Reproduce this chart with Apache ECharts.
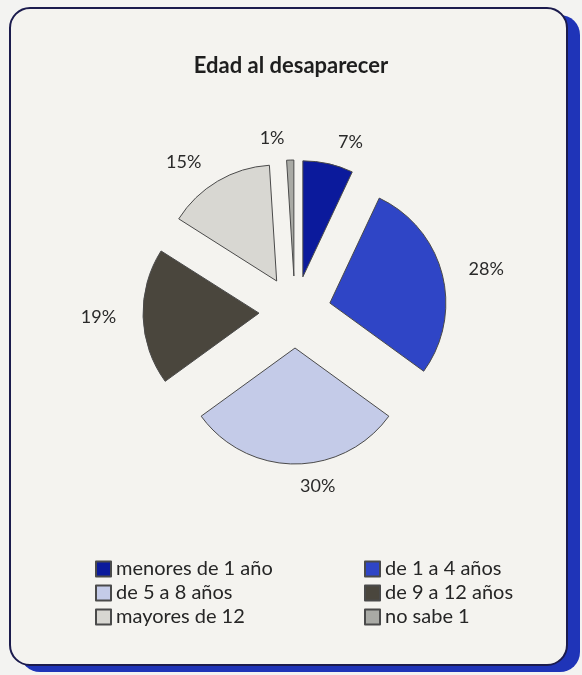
<!DOCTYPE html>
<html>
<head>
<meta charset="utf-8">
<script src="https://cdn.jsdelivr.net/npm/echarts@6/dist/echarts.min.js"></script>
<style>
  html, body { margin: 0; padding: 0; background: #f3f3f1; }
  #chart { width: 582px; height: 675px; }
</style>
</head>
<body>
<div id="chart"></div>
<script>
const categories = ['menores de 1 año', 'de 1 a 4 años', 'de 5 a 8 años', 'de 9 a 12 años', 'mayores de 12', 'no sabe 1']
const values = [7, 28, 30, 19, 15, 1]
const colors = ['#0b1a9c', '#2f45c6', '#c4cbe8', '#4a463d', '#d8d7d2', '#a9aaa5']
const leftLegend = ['menores de 1 año', 'de 5 a 8 años', 'mayores de 12']
const rightLegend = ['de 1 a 4 años', 'de 9 a 12 años', 'no sabe 1']

const myChart = echarts.init(document.getElementById('chart'))

const legendBase = {
  orient: 'vertical',
  top: 554,
  itemWidth: 15,
  itemHeight: 15,
  itemGap: 4,
  icon: 'rect',
  selectedMode: false,
  textStyle: {
    color: '#262626',
    fontSize: 20,
    fontFamily: 'Lato'
  }
}

const option = {
  backgroundColor: '#f3f3f1',
  color: colors,
  title: {
    text: 'Edad al desaparecer',
    left: 'center',
    top: 50,
    textStyle: {
      fontFamily: 'Lato',
      fontWeight: 'bold',
      fontSize: 22,
      color: '#1e1e1e'
    }
  },
  graphic: [
    { // sombra azul del marco
      type: 'rect',
      z: -10,
      shape: { x: 20, y: 15, width: 560, height: 657, r: 20 },
      style: { fill: '#1f34b8' }
    },
    { // marco
      type: 'rect',
      z: -9,
      shape: { x: 10, y: 8, width: 557, height: 657, r: 20 },
      style: { fill: '#f4f3ef', stroke: '#1b1b4d', lineWidth: 2 }
    }
  ],
  legend: [
    Object.assign({}, legendBase, { left: 90, data: leftLegend }),
    Object.assign({}, legendBase, { left: 359, data: rightLegend })
  ],
  series: [{
    type: 'pie',
    center: [295, 312],
    radius: 116,
    startAngle: 90,
    selectedMode: 'multiple',
    selectedOffset: 36,
    avoidLabelOverlap: false,
    silent: true,
    itemStyle: {
      borderColor: '#4a4a4a',
      borderWidth: 1
    },
    label: {
      show: true,
      position: 'outside',
      formatter: '{c}%',
      fontFamily: 'Lato',
      fontSize: 18,
      color: '#2a2a2a'
    },
    labelLine: {
      show: false,
      length: 22,
      length2: 0
    },
    data: categories.map((name, i) => ({ name: name, value: values[i], selected: true }))
  }]
}

option && myChart.setOption(option)
</script>
</body>
</html>
